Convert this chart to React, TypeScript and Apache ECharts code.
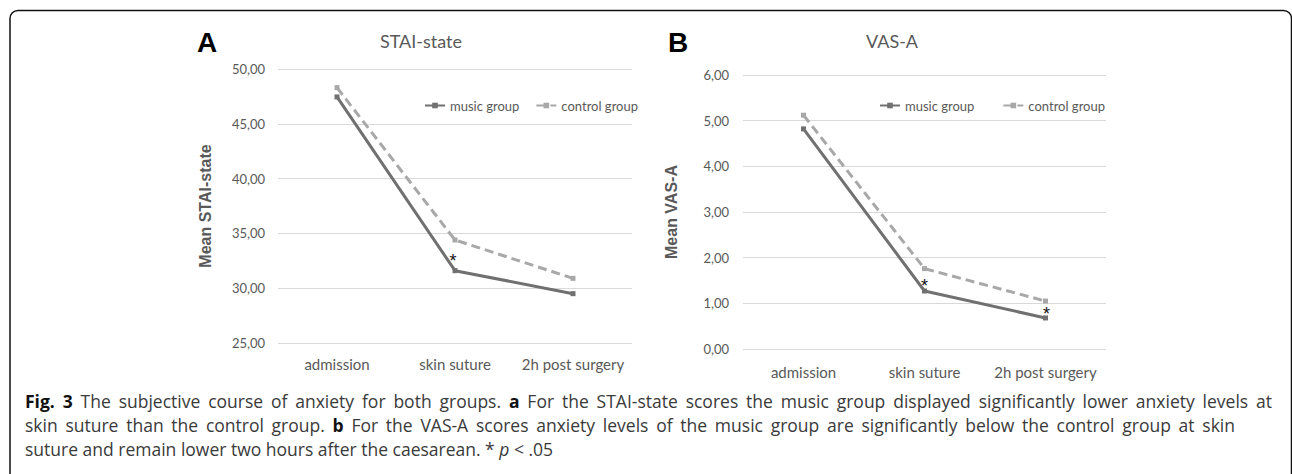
import React, { useEffect, useRef } from 'react';
import * as echarts from 'echarts';

const categories = ['admission', 'skin suture', '2h post surgery'];
const seriesNames = ['music group', 'control group'];
const staiMusic = [47.45, 31.6, 29.5];
const staiControl = [48.3, 34.4, 30.9];
const vasMusic = [4.82, 1.27, 0.68];
const vasControl = [5.12, 1.76, 1.05];
const staiAxis = { min: 25, max: 50, interval: 5 };
const vasAxis = { min: 0, max: 6, interval: 1 };
const staiStars = [false, true, false];
const vasStars = [false, true, true];

// ** = bold, _ = italic
const captionLines = [
  '**Fig.** **3** The subjective course of anxiety for both groups. **a** For the STAI-state scores the music group displayed significantly lower anxiety levels at',
  'skin suture than the control group. **b** For the VAS-A scores anxiety levels of the music group are significantly below the control group at skin',
  'suture and remain lower two hours after the caesarean. * _p_ < .05',
];

const CHART_FONT = 'Lato';
const CAPTION_FONT = 'Open Sans';
const CAPTION_SIZE = 17.5;
const CAPTION_LEFT = 25;
const captionRight: (number | null)[] = [1272, 1235, null];
const captionY = [401, 425, 449];
const LABEL_COLOR = '#595959';
const MUSIC_COLOR = '#707070';
const CONTROL_COLOR = '#a8a8a8';

const starOffsets: Record<string, number[][]> = {
  stai: [[0, 0], [-2, -10], [0, 0]],
  vas: [[0, 0], [0, -5], [1, -4]],
};

function withStars(values: number[], stars: boolean[], key: string) {
  return values.map((v, i) =>
    stars[i]
      ? {
          value: v,
          label: {
            show: true,
            formatter: '*',
            position: 'inside',
            offset: starOffsets[key][i],
            fontSize: 18,
            color: '#111',
            fontFamily: 'Liberation Sans',
          },
        }
      : v
  );
}

const fmt = (v: number) => v.toFixed(2).replace('.', ',');

function captionGraphics() {
  const ctx = document.createElement('canvas').getContext('2d')!;
  const font = (b: boolean, it: boolean) =>
    `${it ? 'italic ' : ''}${b ? 'bold ' : ''}${CAPTION_SIZE}px "${CAPTION_FONT}"`;
  const measure = (t: string, b: boolean, it: boolean) => {
    ctx.font = font(b, it);
    return ctx.measureText(t).width;
  };
  const out: any[] = [];
  captionLines.forEach((line, li) => {
    const words = line.split(' ').map((w) => {
      if (w.startsWith('**') && w.endsWith('**')) return { t: w.slice(2, -2), b: true, it: false };
      if (w.startsWith('_') && w.endsWith('_') && w.length > 2) return { t: w.slice(1, -1), b: false, it: true };
      return { t: w, b: false, it: false };
    });
    const widths = words.map((w) => measure(w.t, w.b, w.it));
    const total = widths.reduce((a, c) => a + c, 0);
    const space = measure(' ', false, false);
    const right = captionRight[li];
    const gap = right != null ? (right - CAPTION_LEFT - total) / (words.length - 1) : space;
    let x = CAPTION_LEFT;
    words.forEach((w, wi) => {
      out.push({
        type: 'text',
        x,
        y: captionY[li],
        silent: true,
        style: {
          text: w.t,
          fontFamily: CAPTION_FONT,
          fontSize: CAPTION_SIZE,
          fontWeight: w.b ? 'bold' : 'normal',
          fontStyle: w.it ? 'italic' : 'normal',
          fill: w.b ? '#111' : '#3a3a3a',
          verticalAlign: 'middle',
        },
      });
      x += widths[wi] + gap;
    });
  });
  return out;
}

export default function App() {
  const ref = useRef<HTMLDivElement>(null);
  useEffect(() => {
    if (!ref.current) return;
    const chart = echarts.init(ref.current, undefined, { renderer: 'svg' });

    const yAxisCommon = {
      type: 'value',
      nameLocation: 'middle',
      nameGap: 65,
      nameTextStyle: { fontFamily: 'Liberation Sans', fontWeight: 'bold', fontSize: 16, color: LABEL_COLOR },
      axisLine: { show: false },
      axisTick: { show: false },
      axisLabel: { formatter: fmt, color: LABEL_COLOR, fontSize: 13, fontFamily: CHART_FONT, margin: 13 },
      splitLine: { lineStyle: { color: '#d9d9d9', width: 1 } },
    };
    const xAxisCommon = {
      type: 'category',
      data: categories,
      boundaryGap: true,
      axisLine: { show: false },
      axisTick: { show: false },
      axisLabel: { color: LABEL_COLOR, fontSize: 15, fontFamily: CHART_FONT, margin: 13, interval: 0 },
    };
    const lineCommon = (name: string) => ({
      type: 'line',
      name,
      symbol: 'rect',
      symbolSize: 5,
      z: name === 'music group' ? 3 : 2,
      lineStyle:
        name === 'music group'
          ? { color: MUSIC_COLOR, width: 3 }
          : { color: CONTROL_COLOR, width: 3, type: [9, 5] },
      itemStyle: { color: name === 'music group' ? MUSIC_COLOR : CONTROL_COLOR },
      emphasis: { disabled: true },
    });
    const legendCommon = {
      data: seriesNames,
      top: 94,
      itemWidth: 20,
      itemHeight: 7,
      textStyle: { color: LABEL_COLOR, fontSize: 13, fontFamily: CHART_FONT },
      selectedMode: false,
    };

    chart.setOption({
      animation: false,
      grid: [
        { left: 278, width: 354, top: 69, height: 274 },
        { left: 743, width: 363, top: 75, height: 274 },
      ],
      xAxis: [
        { ...xAxisCommon, gridIndex: 0 },
        { ...xAxisCommon, gridIndex: 1, axisLabel: { ...xAxisCommon.axisLabel, margin: 15 } },
      ],
      yAxis: [
        { ...yAxisCommon, gridIndex: 0, name: 'Mean STAI-state', ...staiAxis },
        { ...yAxisCommon, gridIndex: 1, name: 'Mean VAS-A', nameGap: 64, ...vasAxis,
          axisLabel: { ...yAxisCommon.axisLabel, margin: 14 } },
      ],
      legend: [
        { ...legendCommon, left: 419, itemGap: 16 },
        { ...legendCommon, left: 874, itemGap: 28 },
      ],
      series: [
        { ...lineCommon('music group'), xAxisIndex: 0, yAxisIndex: 0, data: withStars(staiMusic, staiStars, 'stai') },
        { ...lineCommon('control group'), xAxisIndex: 0, yAxisIndex: 0, data: staiControl },
        { ...lineCommon('music group'), xAxisIndex: 1, yAxisIndex: 1, data: withStars(vasMusic, vasStars, 'vas') },
        { ...lineCommon('control group'), xAxisIndex: 1, yAxisIndex: 1, data: vasControl },
      ],
      graphic: [
        {
          type: 'rect',
          shape: { x: 10, y: 10.5, width: 1281.5, height: 600, r: 8 },
          style: { fill: 'none', stroke: '#111', lineWidth: 1.5 },
          silent: true,
        },
        { type: 'text', x: 197, y: 42, style: { text: 'A', fontFamily: 'Liberation Sans', fontWeight: 'bold', fontSize: 28, fill: '#000', verticalAlign: 'middle' } },
        { type: 'text', x: 668, y: 42, style: { text: 'B', fontFamily: 'Liberation Sans', fontWeight: 'bold', fontSize: 28, fill: '#000', verticalAlign: 'middle' } },
        { type: 'text', x: 421, y: 41, style: { text: 'STAI-state', fontFamily: CHART_FONT, fontSize: 18, fill: LABEL_COLOR, align: 'center', verticalAlign: 'middle' } },
        { type: 'text', x: 892, y: 41, style: { text: 'VAS-A', fontFamily: CHART_FONT, fontSize: 18, fill: LABEL_COLOR, align: 'center', verticalAlign: 'middle' } },
        ...captionGraphics(),
      ],
    });
    return () => chart.dispose();
  }, []);
  return <div ref={ref} style={{ position: 'fixed', left: 0, top: 0, width: 1292, height: 474, background: '#fff' }} />;
}
